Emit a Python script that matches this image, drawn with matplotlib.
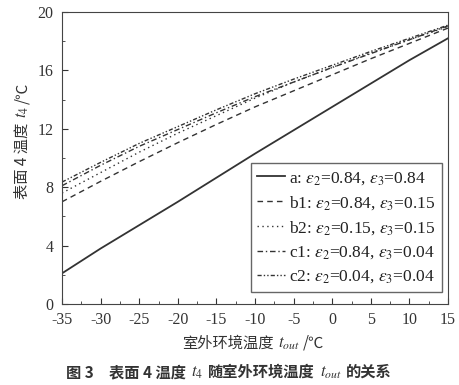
import matplotlib
matplotlib.use('Agg')
import matplotlib.pyplot as plt
from matplotlib.transforms import IdentityTransform
import numpy as np

plt.rcParams['font.family'] = ['Liberation Serif', 'Noto Sans CJK SC']
plt.rcParams['mathtext.fontset'] = 'stix'
plt.rcParams['axes.unicode_minus'] = False

t_out = [-35, -30, -25, -20, -15, -10, -5, 0, 5, 10, 15]
t4_a = [2.1, 3.8, 5.4, 7.0, 8.65, 10.3, 11.9, 13.5, 15.1, 16.7, 18.2]
t4_b1 = [7.0, 8.4, 9.75, 11.05, 12.3, 13.5, 14.6, 15.7, 16.8, 17.85, 18.9]
t4_b2 = [7.6, 9.0, 10.4, 11.7, 12.9, 14.1, 15.2, 16.2, 17.2, 18.1, 19.0]
t4_c1 = [8.1, 9.5, 10.8, 11.95, 13.1, 14.2, 15.2, 16.2, 17.15, 18.1, 19.05]
t4_c2 = [8.35, 9.7, 11.0, 12.15, 13.3, 14.4, 15.4, 16.35, 17.3, 18.2, 19.1]

labels = [
    r'a: $\varepsilon_2$=0.84, $\varepsilon_3$=0.84',
    r'b1: $\varepsilon_2$=0.84, $\varepsilon_3$=0.15',
    r'b2: $\varepsilon_2$=0.15, $\varepsilon_3$=0.15',
    r'c1: $\varepsilon_2$=0.84, $\varepsilon_3$=0.04',
    r'c2: $\varepsilon_2$=0.04, $\varepsilon_3$=0.04',
]

ink = '#333333'


def draw_pieces(fig, x, y, pieces, rotation=0):
    # lay out text pieces one after another (pixel coords, baseline anchored)
    renderer = fig.canvas.get_renderer()
    items = []
    for s, kw, gap in pieces:
        t = fig.text(0, 0, s, ha='left', va='baseline', rotation_mode='anchor',
                     transform=IdentityTransform(), color=ink, **kw)
        w = t.get_window_extent(renderer).width
        items.append((t, w, gap))
    total = sum(w + g for _, w, g in items) - items[-1][2]
    pos = -total / 2
    for t, w, g in items:
        if rotation == 90:
            t.set_rotation(90)
            t.set_position((x, y + pos))
        else:
            t.set_position((x + pos, y))
        pos += w + g


fig = plt.figure(figsize=(4.6, 3.85), dpi=100)
ax = fig.add_axes([62 / 460, 81 / 385, 386 / 460, 292 / 385])

ax.plot(t_out, t4_a, color=ink, lw=1.3, ls='-', label=labels[0])
ax.plot(t_out, t4_b1, color=ink, lw=1.0, ls=(0, (4, 3)), label=labels[1])
ax.plot(t_out, t4_b2, color=ink, lw=1.0, ls=(0, (1, 2.5)), label=labels[2])
ax.plot(t_out, t4_c1, color=ink, lw=1.0, ls=(0, (4, 2, 1, 2)), label=labels[3])
ax.plot(t_out, t4_c2, color=ink, lw=1.0, ls=(0, (3, 1.5, 1, 1.5, 1, 1.5)), label=labels[4])

ax.set_xlim(-35, 15)
ax.set_ylim(0, 20)
ax.set_xticks(np.arange(-35, 16, 5))
ax.set_yticks(np.arange(0, 21, 4))
ax.set_xticks(np.arange(-35, 15.1, 2.5), minor=True)
ax.set_yticks(np.arange(0, 20.1, 2), minor=True)
ax.tick_params(which='both', direction='in', labelsize=11.5, colors=ink)
ax.tick_params(which='major', length=4)
ax.tick_params(which='minor', length=2)
ax.tick_params(axis='x', pad=6)
ax.tick_params(axis='y', pad=6)
for s in ax.spines.values():
    s.set_color('#444444')

leg = ax.legend(loc='lower right', fontsize=12.5, handlelength=1.6, handletextpad=0.2,
                labelspacing=0.42, borderpad=0.4, borderaxespad=0, fancybox=False,
                framealpha=1, edgecolor='#666666', bbox_to_anchor=(0.984, 0.041))
for t in leg.get_texts():
    t.set_color('#222222')

cjk = {'fontsize': 11, 'family': ['Noto Sans CJK SC']}
math = {'fontsize': 12}
draw_pieces(fig, 253, 385 - 348, [
    ('室外环境温度', cjk, 5),
    ('$t_{out}$', math, 3),
    ('/℃', cjk, 0),
])
draw_pieces(fig, 27, 385 - 141, [
    ('表面 4 温度', cjk, 5),
    ('$t_4$', math, 2),
    ('/℃', cjk, 0),
], rotation=90)

cap = {'fontsize': 11, 'family': ['Noto Sans CJK SC'], 'fontweight': 'bold'}
draw_pieces(fig, 229, 385 - 377, [
    ('图 3　表面 4 温度', cap, 5),
    ('$t_4$', math, 5),
    ('随室外环境温度', cap, 5),
    ('$t_{out}$', math, 5),
    ('的关系', cap, 0),
])

fig.savefig('out.png', dpi=100)
